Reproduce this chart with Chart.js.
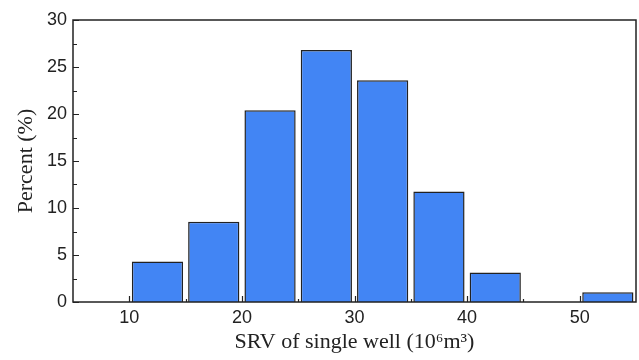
<!DOCTYPE html>
<html>
<head>
<meta charset="utf-8">
<script src="https://cdn.jsdelivr.net/npm/chart.js@4"></script>
<style>
  html, body { margin: 0; padding: 0; background: #fff; }
  #wrap { width: 639px; height: 360px; }
</style>
</head>
<body>
<div id="wrap"><canvas id="chart"></canvas></div>
<script>
const ctx = document.getElementById('chart');

// bin centres (10^6 m3) and percent of wells
const binCenters = [7.5, 12.5, 17.5, 22.5, 27.5, 32.5, 37.5, 42.5, 47.5, 52.5];
const percents = [0, 4.3, 8.55, 20.4, 26.8, 23.6, 11.75, 3.15, 0, 1.05];
const xTicks = [10, 20, 30, 40, 50];
const yTicks = [0, 5, 10, 15, 20, 25, 30];

const ink = '#222222';

// frame + inward tick marks
const frameTicks = {
  id: 'frameTicks',
  afterDatasetsDraw(chart) {
    const { ctx, chartArea: a, scales: { x, y } } = chart;
    ctx.save();
    ctx.strokeStyle = ink;
    ctx.lineWidth = 1.5;
    ctx.strokeRect(a.left, a.top, a.right - a.left, a.bottom - a.top);
    ctx.lineWidth = 1.2;
    ctx.beginPath();
    for (let v = 0; v <= 30; v += 2.5) {
      const py = Math.round(y.getPixelForValue(v)) + 0.5;
      const len = (v % 5 === 0) ? 6 : 4;
      ctx.moveTo(a.left, py); ctx.lineTo(a.left + len, py);
    }
    for (let v = 10; v <= 50; v += 5) {
      const px = Math.round(x.getPixelForValue(v)) + 0.5;
      const len = (v % 10 === 0) ? 6 : 3;
      ctx.moveTo(px, a.bottom); ctx.lineTo(px, a.bottom - len);
    }
    ctx.stroke();
    ctx.restore();
  }
};

new Chart(ctx, {
  type: 'bar',
  data: {
    datasets: [{
      data: binCenters.map((c, i) => ({ x: c, y: percents[i] })),
      backgroundColor: '#4285F4',
      borderColor: ink,
      borderWidth: 1.5,
      borderSkipped: 'bottom',
      categoryPercentage: 1.0,
      barPercentage: 0.91
    }]
  },
  options: {
    responsive: true,
    maintainAspectRatio: false,
    animation: false,
    layout: { padding: { left: 0, right: 3, top: 20, bottom: 0 } },
    plugins: {
      legend: { display: false },
      tooltip: { enabled: false }
    },
    scales: {
      x: {
        type: 'linear',
        min: 5,
        max: 55,
        offset: false,
        afterBuildTicks: s => { s.ticks = xTicks.map(v => ({ value: v })); },
        afterFit: s => { s.height = 58; },
        grid: { display: false, drawTicks: false },
        border: { display: false },
        ticks: {
          color: ink,
          padding: 5,
          font: { family: 'Liberation Sans', size: 18 }
        },
        title: {
          display: true,
          text: 'SRV of single well (10⁶m³)',
          color: ink,
          padding: { top: 0, bottom: 5 },
          font: { family: 'Liberation Serif', size: 22 }
        }
      },
      y: {
        min: 0,
        max: 30,
        afterBuildTicks: s => { s.ticks = yTicks.map(v => ({ value: v })); },
        afterFit: s => { s.width = 73; },
        grid: { display: false, drawTicks: false },
        border: { display: false },
        ticks: {
          color: ink,
          padding: 6,
          font: { family: 'Liberation Sans', size: 18 }
        },
        title: {
          display: true,
          text: 'Percent (%)',
          color: ink,
          padding: { top: 13, bottom: 0 },
          font: { family: 'Liberation Serif', size: 22 }
        }
      }
    }
  },
  plugins: [frameTicks]
});
</script>
</body>
</html>
